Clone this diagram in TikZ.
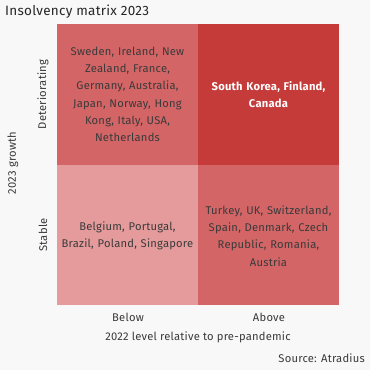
\documentclass[tikz,border=0pt]{standalone}
\usepackage{fontspec}
\setmainfont{Fira Sans}[LetterSpace=2]
\definecolor{bg}{HTML}{F8F8F8}
\definecolor{cmid}{HTML}{D46566}
\definecolor{cdark}{HTML}{C43B3A}
\definecolor{clight}{HTML}{E59B9C}
\definecolor{txt}{HTML}{3A3A3A}
\begin{document}
\begin{tikzpicture}[x=1pt,y=-1pt,
  cell/.style={draw=none,inner sep=0pt,outer sep=0pt},
  celltext/.style={text=txt,align=center,font=\fontsize{11.2}{17.3}\selectfont,text width=#1},
  lab/.style={text=txt,font=\fontsize{11.2}{12}\selectfont,inner sep=0pt}]
\fill[bg] (0,0) rectangle (370,370);
\useasboundingbox (0,0) rectangle (370,370);
\node[lab,anchor=west,font=\fontsize{13.5}{14}\selectfont,text=black!85] (title) at (5,12) {Insolvency matrix 2023};
\fill[cmid] (57,24) rectangle (198,165);
\fill[cdark] (198,24) rectangle (339,165);
\fill[clight] (57,165) rectangle (198,305);
\fill[cmid] (198,165) rectangle (339,305);
\coordinate (tl) at (127.5,94.5);
\coordinate (tr) at (268.5,94.5);
\coordinate (bl) at (127.5,236);
\coordinate (br) at (268.5,236);
\node[celltext=140pt] (ntl) at (tl) {Sweden, Ireland, New\\ Zealand, France,\\ Germany, Australia,\\ Japan, Norway, Hong\\ Kong, Italy, USA,\\ Netherlands};
\node[celltext=140pt,text=white,font=\bfseries\fontsize{11.2}{17.3}\selectfont] (ntr) at (tr) {South Korea, Finland,\\ Canada};
\node[celltext=140pt] (nbl) at (bl) {Belgium, Portugal,\\ Brazil, Poland, Singapore};
\node[celltext=140pt] (nbr) at (br) {Turkey, UK, Switzerland,\\ Spain, Denmark, Czech\\ Republic, Romania,\\ Austria};
\node[lab,rotate=90] (det) at (43,94.5) {Deteriorating};
\node[lab,rotate=90] (sta) at (43,235) {Stable};
\node[lab,rotate=90] (yax) at (13,163) {2023 growth};
\node[lab] (below) at (128,317) {Below};
\node[lab] (above) at (269,317) {Above};
\node[lab] (xax) at (198,337) {2022 level relative to pre-pandemic};
\node[lab,anchor=east] (src) at (365,358) {Source: Atradius};
\end{tikzpicture}
\end{document}
